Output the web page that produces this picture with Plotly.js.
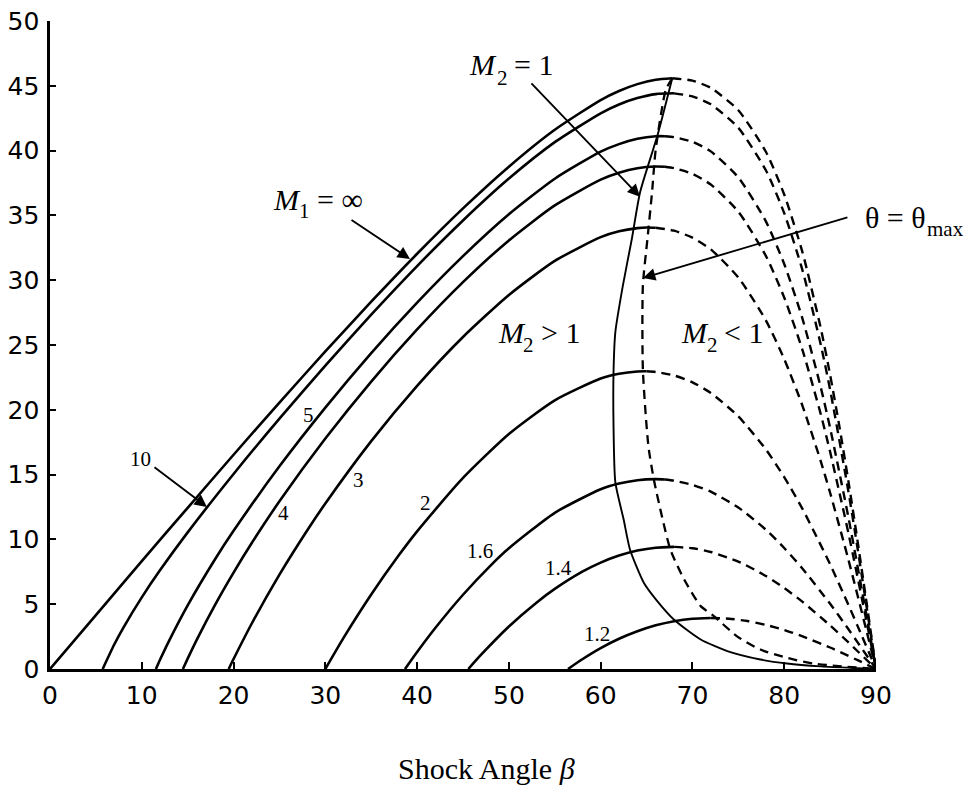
<!DOCTYPE html>
<html>
<head>
<meta charset="utf-8">
<script src="https://cdn.plot.ly/plotly-3.0.1.min.js"></script>
<style>html,body{margin:0;padding:0;background:#fff;}#chart{width:975px;height:787px;}</style>
</head>
<body>
<div id="chart"></div>
<script>
// ---- Data (shock angle beta, deflection angle theta) ----
// M1 = infinity
const betaInfSup  = [0,5,10,15,20,25,30,35,40,45,50,55,60,62,64,66,67.8];
const thetaInfSup = [0,4.16,8.32,12.44,16.53,20.56,24.50,28.34,32.04,35.54,38.76,41.61,43.90,44.60,45.13,45.47,45.58];
const betaInfSub  = [67.8,70,72,75,78,80,82,84,85,86,87,88,89,90];
const thetaInfSub = [45.58,45.40,44.84,43.11,39.91,36.61,32.13,26.24,22.70,18.76,14.46,9.83,4.98,0];
// M1 = 10
const beta10Sup  = [5.74,7,8,10,12,15,20,25,30,35,40,45,50,55,60,62,64,66,68];
const theta10Sup = [0,1.89,3.20,5.53,7.63,10.54,15.05,19.32,23.41,27.34,31.09,34.61,37.84,40.65,42.88,43.56,44.05,44.36,44.42];
const beta10Sub  = [68,70,72,75,78,80,82,84,85,87,88,89,90];
const theta10Sub = [44.42,44.18,43.57,41.76,38.48,35.17,30.74,24.97,21.56,13.67,9.28,4.70,0];
// M1 = 5
const beta5Sup  = [11.54,12,13,15,18,20,25,30,35,40,45,50,55,60,62,64,66,67];
const theta5Sup = [0,0.73,2.21,4.91,8.49,10.66,15.64,20.17,24.38,28.27,31.86,35.09,37.83,39.92,40.50,40.91,41.11,41.11];
const beta5Sub  = [67,68,70,72,75,78,80,82,84,85,87,89,90];
const theta5Sub = [41.11,41.04,40.68,39.94,37.93,34.54,31.25,27.0,21.68,18.60,11.68,3.99,0];
// M1 = 4
const beta4Sup  = [14.48,15,16,18,20,22,25,30,35,40,45,50,55,60,62,64,66,67];
const theta4Sup = [0,0.80,2.27,4.97,7.44,9.74,12.94,17.78,22.18,26.20,29.85,33.07,35.77,37.76,38.29,38.64,38.77,38.75];
const beta4Sub  = [67,68,70,72,75,78,80,82,84,85,87,89,90];
const theta4Sub = [38.75,38.64,38.21,37.38,35.29,31.88,28.66,24.59,19.61,16.76,10.47,3.56,0];
// M1 = 3
const beta3Sup  = [19.47,20,22,25,28,30,35,40,45,50,55,60,62,64,65,66];
const theta3Sup = [0,0.77,3.53,7.28,10.67,12.77,17.58,21.85,25.62,28.86,31.49,33.32,33.77,34.02,34.07,34.05];
const beta3Sub  = [66,68,70,72,75,78,80,82,84,85,87,89,90];
const theta3Sub = [34.05,33.82,33.28,32.38,30.21,26.90,23.92,20.29,15.99,13.60,8.42,2.85,0];
// M1 = 2
const beta2Sup  = [30,32,35,38,40,45,50,55,60,62,64,65];
const theta2Sup = [0,2.42,5.75,8.77,10.62,14.74,18.13,20.73,22.41,22.78,22.96,22.97];
const beta2Sub  = [65,66,68,70,72,75,78,80,82,85,87,88,90];
const theta2Sub = [22.97,22.92,22.65,22.12,21.30,19.49,16.94,14.81,12.34,8.08,4.94,3.31,0];
// M1 = 1.6
const beta16Sup  = [38.68,40,42,45,48,50,55,60,62,64,66,67];
const theta16Sup = [0,1.31,3.18,5.73,7.98,9.31,12.05,13.87,14.31,14.57,14.65,14.62];
const beta16Sub  = [67,68,70,72,75,78,80,82,85,87,88,90];
const theta16Sub = [14.62,14.53,14.21,13.68,12.46,10.75,9.34,7.74,5.03,3.07,2.05,0];
// M1 = 1.4
const beta14Sup  = [45.58,47,50,53,55,58,60,62,64,66,68];
const theta14Sup = [0,1.12,3.28,5.12,6.18,7.51,8.21,8.75,9.14,9.36,9.42];
const beta14Sub  = [68,70,72,75,78,80,82,85,87,88,90];
const theta14Sub = [9.42,9.32,9.03,8.29,7.18,6.25,5.18,3.36,2.05,1.37,0];
// M1 = 1.2
const beta12Sup  = [56.44,58,60,62,64,66,68,70,72];
const theta12Sup = [0,0.75,1.61,2.33,2.91,3.37,3.69,3.88,3.94];
const beta12Sub  = [72,74,76,78,80,82,85,87,88,90];
const theta12Sub = [3.94,3.88,3.70,3.40,3.01,2.52,1.66,1.01,0.68,0];
// Sonic line M2 = 1
const betaSonic  = [67.8,66.2,64.3,63.4,62.4,61.6,61.4,61.4,61.6,62.5,63.2,64.7,66.1,68.0,70.9,73.8,77.4,80.3,84.0,90];
const thetaSonic = [45.58,41.2,36.8,33.2,29.5,26.0,22.9,18.8,14.4,11.55,9.2,6.66,5.3,3.8,2.28,1.38,0.73,0.42,0.2,0];
// theta = theta_max locus
const betaMax  = [67.8,67.1,66.0,65.6,65.1,64.6,64.6,65.2,65.8,66.7,67.6,69.1,70.9,72.3,74.9,77.4,80.3,83.2,90];
const thetaMax = [45.58,44.7,40.1,36.8,33.2,29.6,23.1,17.2,14.6,11.7,9.2,6.9,4.85,4.1,2.5,1.5,0.86,0.42,0];

// Tick values
const xTicks = [0,10,20,30,40,50,60,70,80,90];
const yTicks = [0,5,10,15,20,25,30,35,40,45,50];

// Curve labels (Mach numbers) and their positions
const machLabels = ['10','5','4','3','2','1.6','1.4','1.2'];
const machLabelX = [9.9,28.2,25.4,33.6,40.9,46.8,55.4,59.6];
const machLabelY = [16.2,19.6,12.0,14.6,12.8,9.1,7.8,2.7];

const solidLine  = {color:'#000', width:2.6, shape:'spline', smoothing:0.6};
const dashedLine = {color:'#000', width:2.4, dash:'9px,6px', shape:'spline', smoothing:0.6};

const sup = [[betaInfSup,thetaInfSup],[beta10Sup,theta10Sup],[beta5Sup,theta5Sup],[beta4Sup,theta4Sup],
             [beta3Sup,theta3Sup],[beta2Sup,theta2Sup],[beta16Sup,theta16Sup],[beta14Sup,theta14Sup],[beta12Sup,theta12Sup]];
const sub = [[betaInfSub,thetaInfSub],[beta10Sub,theta10Sub],[beta5Sub,theta5Sub],[beta4Sub,theta4Sub],
             [beta3Sub,theta3Sub],[beta2Sub,theta2Sub],[beta16Sub,theta16Sub],[beta14Sub,theta14Sub],[beta12Sub,theta12Sub]];

const traces = [];
sup.forEach(p => traces.push({x:p[0], y:p[1], mode:'lines', line:solidLine, hoverinfo:'skip'}));
sub.forEach(p => traces.push({x:p[0], y:p[1], mode:'lines', line:dashedLine, hoverinfo:'skip'}));
traces.push({x:betaSonic, y:thetaSonic, mode:'lines', line:{color:'#000', width:1.9, shape:'spline', smoothing:0.6}, hoverinfo:'skip'});
traces.push({x:betaMax, y:thetaMax, mode:'lines', line:{color:'#000', width:2.3, dash:'9px,6px', shape:'spline', smoothing:0.6}, hoverinfo:'skip'});

const serif = 'Liberation Serif, Times New Roman, serif';
const annotations = [];
machLabels.forEach((t,i) => annotations.push({x:machLabelX[i], y:machLabelY[i], xref:'x', yref:'y', text:t,
  showarrow:false, font:{family:serif, size:21, color:'#000'}}));

// Text pieces placed by left edge and baseline (page pixels), subscripts drawn as their own smaller text
const M = {l:50, t:21, w:826, h:648};
function piece(text, leftPx, baselinePx, size) {
  annotations.push({xref:'paper', yref:'paper', x:(leftPx - M.l) / M.w,
    y:(M.t + M.h - (baselinePx - 0.3375 * size)) / M.h, xanchor:'left', yanchor:'middle',
    text:text, showarrow:false, font:{family:serif, size:size, color:'#000'}});
}
// M2 = 1
piece('<i>M</i>', 467, 75, 30); piece('2', 495, 85, 21); piece('= 1', 512, 75, 30);
// M1 = infinity
piece('<i>M</i>', 271, 210, 30); piece('1', 297, 218, 21); piece('= ∞', 315, 210, 30);
// theta = theta_max
piece('θ = θ', 863, 228, 30); piece('max', 925, 236, 21);
// M2 > 1 and M2 < 1
piece('<i>M</i>', 496, 343, 30); piece('2', 521, 352, 21); piece('> 1', 539, 343, 30);
piece('<i>M</i>', 679, 343, 30); piece('2', 705, 352, 21); piece('< 1', 722, 343, 30);

// x-axis title, placed as in the reference
annotations.push({x:0.528, y:-0.153, xref:'paper', yref:'paper', xanchor:'center', yanchor:'middle',
  text:'Shock Angle <i>β</i>', showarrow:false, font:{family:serif, size:30, color:'#000'}});

// arrows (tip at x,y; tail at ax,ay)
function arrow(x, y, ax, ay) {
  annotations.push({x:x, y:y, ax:ax, ay:ay, xref:'x', yref:'y', axref:'x', ayref:'y', text:'',
    showarrow:true, arrowhead:2, arrowsize:1.3, arrowwidth:1.9, arrowcolor:'#000', standoff:0, startstandoff:0});
}
arrow(64.28, 36.44, 52.3, 45.3);
arrow(39.22, 31.64, 32.69, 34.72);
arrow(64.61, 30.17, 87.05, 34.88);
arrow(17.1, 12.5, 11.22, 15.66);

const axisCommon = {showline:true, linewidth:2.6, linecolor:'#000', ticks:'inside', tickwidth:2, tickcolor:'#000',
  showgrid:false, zeroline:false, mirror:false, automargin:false,
  tickfont:{family:'DejaVu Sans, sans-serif', size:25, color:'#000'}};

const layout = {
  width:975, height:787,
  margin:{l:M.l, r:975 - M.l - M.w, t:M.t, b:787 - M.t - M.h},
  paper_bgcolor:'#fff', plot_bgcolor:'#fff',
  showlegend:false,
  xaxis: Object.assign({}, axisCommon, {range:[0,90], tickvals:xTicks, ticktext:xTicks.map(String), ticklen:7,
    ticklabelstandoff:2}),
  yaxis: Object.assign({}, axisCommon, {range:[0,50], tickvals:yTicks, ticktext:yTicks.map(String), ticklen:6,
    ticklabelstandoff:3}),
  annotations: annotations
};

Plotly.newPlot('chart', traces, layout, {staticPlot:true, displayModeBar:false});
</script>
</body>
</html>
